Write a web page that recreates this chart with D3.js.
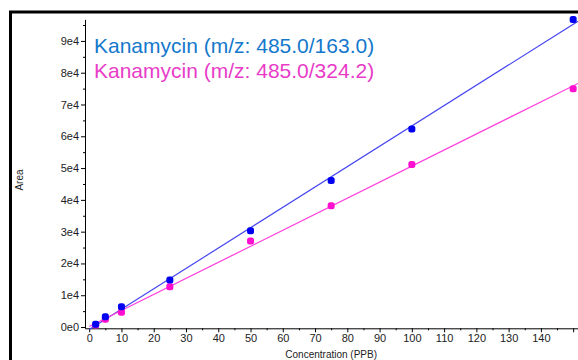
<!DOCTYPE html>
<html><head><meta charset="utf-8">
<script src="https://cdn.jsdelivr.net/npm/d3@7"></script>
<style>html,body{margin:0;padding:0;background:#fff;}svg{display:block;}</style>
</head><body>
<svg id="c" width="578" height="360"></svg>
<script>
const concentrations = [2, 5, 10, 25, 50, 75, 100, 150];
const area163 = [850, 3240, 6390, 14780, 30300, 46100, 62260, 96760];
const area324 = [600, 2420, 4620, 12670, 27100, 38150, 51150, 74950];
const seriesNames = ["Kanamycin (m/z: 485.0/163.0)", "Kanamycin (m/z: 485.0/324.2)"];
const xTicks = [0,10,20,30,40,50,60,70,80,90,100,110,120,130,140,150];
const xLabelTicks = [0,10,20,30,40,50,60,70,80,90,100,110,120,130,140];
const yTicks = [0,10000,20000,30000,40000,50000,60000,70000,80000,90000];
const yTickLabels = ["0e0","1e4","2e4","3e4","4e4","5e4","6e4","7e4","8e4","9e4"];

const svg = d3.select("#c");
const x = d3.scaleLinear().domain([-1.3, 151.5]).range([85, 578]);
const y = d3.scaleLinear().domain([-400, 96800]).range([328.3, 19.3]);
const font = "'Liberation Sans', Arial, sans-serif";

// frame
svg.append("rect").attr("x", 10.5).attr("y", 12).attr("width", 600).attr("height", 400)
  .attr("fill", "none").attr("stroke", "#000").attr("stroke-width", 3);

// axes
const gx = svg.append("g").attr("transform", `translate(0,${y(-400)})`)
  .call(d3.axisBottom(x).tickValues(xTicks).tickSize(4).tickSizeOuter(0)
    .tickFormat(d => xLabelTicks.includes(d) ? d : ""));
const gxMinor = svg.append("g").attr("transform", `translate(0,${y(-400)})`)
  .call(d3.axisBottom(x).tickValues(d3.range(5, 150, 10)).tickSize(2).tickFormat("").tickSizeOuter(0));
gxMinor.select(".domain").remove();

const gy = svg.append("g").attr("transform", `translate(${x(-1.3)},0)`)
  .call(d3.axisLeft(y).tickValues(yTicks).tickSize(4).tickSizeOuter(0)
    .tickFormat((d, i) => yTickLabels[i]));
const gyMinor = svg.append("g").attr("transform", `translate(${x(-1.3)},0)`)
  .call(d3.axisLeft(y).tickValues(d3.range(5000, 96000, 10000)).tickSize(2).tickFormat("").tickSizeOuter(0));
gyMinor.select(".domain").remove();

svg.selectAll(".tick text").attr("font-family", font).attr("font-size", 11).attr("fill", "#222");
svg.selectAll(".domain, .tick line").attr("stroke", "#000");
gy.selectAll(".tick text").attr("x", -6);
gx.selectAll(".tick text").attr("y", 6);

// axis titles
svg.append("text").attr("x", x(75)).attr("y", 358).attr("text-anchor", "middle")
  .attr("font-family", font).attr("font-size", 10).attr("fill", "#222").text("Concentration (PPB)");
svg.append("text").attr("transform", "translate(23,180) rotate(-90)").attr("text-anchor", "middle")
  .attr("font-family", font).attr("font-size", 10).attr("fill", "#222").text("Area");

// series
function fit(xs, ys) {
  const mx = d3.mean(xs), my = d3.mean(ys);
  let sxy = 0, sxx = 0;
  xs.forEach((v, i) => { sxy += (v - mx) * (ys[i] - my); sxx += (v - mx) * (v - mx); });
  const b = sxy / sxx; return { b, a: my - b * mx };
}
const series = [
  { vals: area163, line: "#4646f0", pt: "#0000f0" },
  { vals: area324, line: "#ff3cdc", pt: "#ff10d0" }
];
series.forEach(s => {
  const f = fit(concentrations, s.vals);
  svg.append("line").attr("x1", x(0)).attr("y1", y(f.a)).attr("x2", x(151.5)).attr("y2", y(f.a + f.b * 151.5))
    .attr("stroke", s.line).attr("stroke-width", 1.2);
});
series.slice().reverse().forEach(s => {
  svg.selectAll(null).data(concentrations).enter().append("rect")
    .attr("x", d => x(d) - 3.5).attr("y", (d, i) => y(s.vals[i]) - 3.5)
    .attr("width", 7).attr("height", 7).attr("rx", 2.5)
    .attr("fill", s.pt);
});

// legend text
const legendColors = ["#1478cc", "#e83cc8"];
seriesNames.forEach((n, i) => {
  svg.append("text").attr("x", 94).attr("y", 53 + i * 24.5)
    .attr("font-family", font).attr("font-size", 21).attr("fill", legendColors[i]).text(n);
});
</script>
</body></html>
